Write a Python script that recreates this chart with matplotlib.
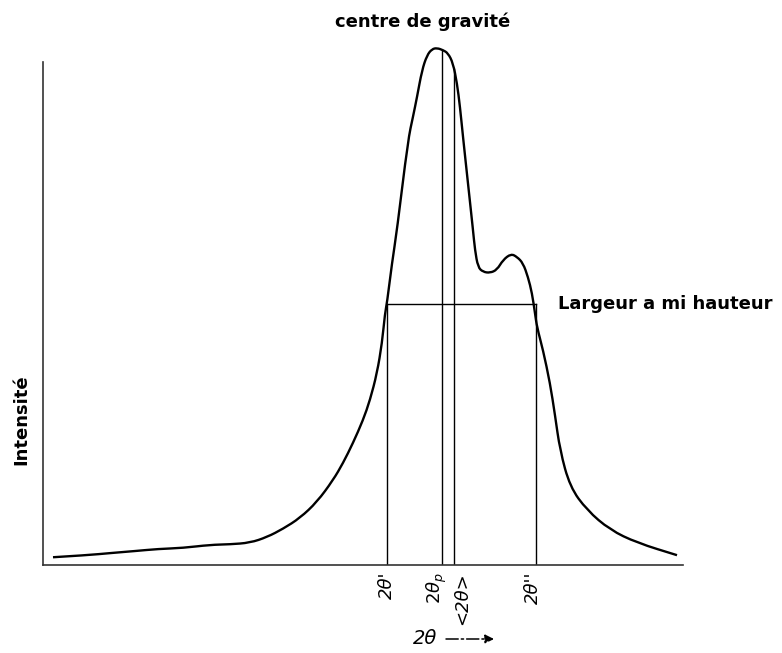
import matplotlib.pyplot as plt
from matplotlib.path import Path
from matplotlib.patches import PathPatch

# diffraction profile (2theta in arbitrary units, intensity normalised to the peak)
two_theta = [1.0, 4.4, 6.7, 9.2, 11.5, 14.0, 16.7, 18.7, 20.7, 22.4, 24.0,
             25.7, 27.4, 29.0, 30.0, 31.0, 32.0, 32.7, 33.4, 33.9, 34.2,
             34.4, 34.9, 35.4, 36.5, 37.0, 37.4, 37.9, 38.4, 38.9, 39.4,
             40.0, 40.5, 41.0, 41.4, 41.7, 42.0, 42.5, 43.0, 43.2, 43.5,
             44.0, 44.7, 45.4, 46.0, 46.8, 47.4, 48.0, 48.5, 48.9, 49.2,
             49.4, 50.0, 50.7, 51.2, 51.7, 52.7, 54.4, 56.7, 59.4, 63.4]
intensity = [1.5, 1.9, 2.3, 2.7, 3.1, 3.3, 3.9, 4.0, 4.3, 5.4, 7.0,
             9.1, 12.2, 16.4, 19.7, 23.6, 28.0, 31.9, 37.1, 42.9, 48.7,
             50.7, 58.4, 64.8, 82.2, 86.7, 90.5, 95.7, 98.6, 99.8, 100.0,
             99.6, 99.0, 97.1, 93.2, 88.6, 82.8, 73.8, 64.8, 60.9, 57.6,
             56.7, 56.5, 57.1, 59.0, 60.2, 59.6, 58.4, 55.7, 52.6, 48.7,
             46.0, 41.6, 35.2, 29.0, 22.2, 15.1, 10.6, 6.8, 4.3, 1.9]

# characteristic positions and where their markers meet the profile
marker_x = [34.4, 39.9, 41.1, 49.3]
marker_top = [50.5, 99.5, 96.0, 50.5]
marker_labels = ["2θ'", r"$\mathit{2\theta_p}$", "<2θ>", "2θ''"]
label_shift = [0, -4, 6, -2]  # points
half_height = 50.5

fig = plt.figure(figsize=(7.82, 6.53), dpi=100)
ax = fig.add_axes([43 / 782, 88 / 653, 640 / 782, 525 / 653])
ax.set_xlim(0, 64)
ax.set_ylim(0, 101.55)

# smooth the profile with quadratic bezier segments between midpoints
pts = list(zip(two_theta, intensity))
verts = [pts[0]]
codes = [Path.MOVETO]
for i in range(1, len(pts) - 1):
    mid = ((pts[i][0] + pts[i + 1][0]) / 2, (pts[i][1] + pts[i + 1][1]) / 2)
    verts += [pts[i], mid]
    codes += [Path.CURVE3, Path.CURVE3]
verts.append(pts[-1])
codes.append(Path.LINETO)
ax.add_patch(PathPatch(Path(verts, codes), facecolor='none', edgecolor='black',
                       lw=1.7, clip_on=False, joinstyle='round'))

for xm, top in zip(marker_x, marker_top):
    ax.plot([xm, xm], [0, top], color='black', lw=1.0)
ax.plot([marker_x[0], marker_x[-1]], [half_height, half_height],
        color='black', lw=1.0)

for xm, lab, dx in zip(marker_x, marker_labels, label_shift):
    ax.annotate(lab, xy=(xm, 0), xytext=(dx, -5), textcoords='offset points',
                rotation=90, ha='center', va='top', fontsize=13,
                style='italic')

ax.text(51.5, half_height, 'Largeur a mi hauteur', fontsize=13,
        fontweight='bold', va='center', ha='left')

for s in ['top', 'right']:
    ax.spines[s].set_visible(False)
ax.spines['left'].set_bounds(0, 97.3)
for s in ['left', 'bottom']:
    ax.spines[s].set_linewidth(1.2)
    ax.spines[s].set_color('#333333')
ax.set_xticks([])
ax.set_yticks([])

fig.text(423 / 782, 1 - 22 / 653, 'centre de gravité', fontsize=13,
         fontweight='bold', ha='center', va='center')
fig.text(21 / 782, 1 - 420 / 653, 'Intensité', fontsize=13,
         fontweight='bold', rotation=90, ha='center', va='center')

# 2theta axis label with its direction arrow
fig.text(413 / 782, 1 - 638 / 653, '2θ', fontsize=14, style='italic',
         ha='left', va='center')
ax.annotate('', xy=(494 / 782, 1 - 639 / 653), xytext=(446 / 782, 1 - 639 / 653),
            xycoords='figure fraction', textcoords='figure fraction',
            arrowprops=dict(arrowstyle='-|>', color='black', lw=1.1,
                            linestyle=(0, (8, 2, 1.5, 2)),
                            mutation_scale=13, shrinkA=0, shrinkB=0))

fig.savefig('out.png', dpi=100)
